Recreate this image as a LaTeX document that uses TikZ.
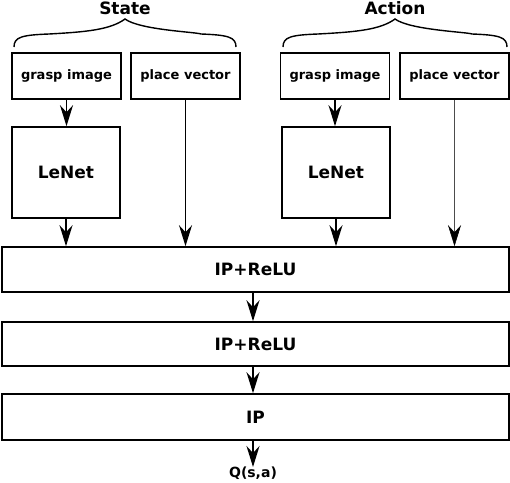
\documentclass[tikz,border=0pt]{standalone}
\usepackage{fontspec}
\setmainfont{DejaVu Sans}
\usetikzlibrary{arrows.meta}

\begin{document}
\begin{tikzpicture}[x=1pt,y=-1pt,
  box/.style={draw,line width=1.6pt,inner sep=0pt,font=\bfseries\fontsize{13}{15}\selectfont},
  big/.style={font=\bfseries\fontsize{17}{20}\selectfont},
  arr/.style={line width=1.5pt,-{Stealth[length=21pt,width=13pt,inset=7pt]}}]
\useasboundingbox (0,0) rectangle (510,482);
% inputs
\foreach \n/\x/\t in {sg/66.5/grasp image, sp/185.5/place vector, ag/335/grasp image, ap/454.5/place vector} {
\node[box,minimum width=109pt,minimum height=46pt] (\n) at (\x,76) {\t};
}
\foreach \n/\x in {sl/66, al/336} {
\node[box,big,minimum width=108pt,minimum height=91pt] (\n) at (\x,172.5) {LeNet};
}
% braces
\foreach \n/\l/\r/\t in {state/14/236/State, action/283/507/Action} {
\pgfmathsetmacro\m{(\l+\r)/2}
\draw[line width=1.4pt] (\l,47) .. controls (\l,37) and ({\l+8},35) .. ({\l+35},34)
  .. controls ({\m-40},32) and ({\m-15},30) .. (\m,19)
  .. controls ({\m+15},30) and ({\r-40},32) .. ({\r-35},34)
  .. controls ({\r-8},35) and (\r,37) .. (\r,47);
\node[big,inner sep=0pt] (\n) at (\m,8) {\t};
}
% layers
\node[box,big,minimum width=507pt,minimum height=45pt] (ip1) at (255.5,269.5) {IP+ReLU};
\node[box,big,minimum width=507pt,minimum height=44pt] (ip2) at (255.5,344) {IP+ReLU};
\node[box,big,minimum width=507pt,minimum height=46pt] (ip3) at (255.5,417) {IP};
\node[inner sep=0pt,font=\bfseries\fontsize{14}{16}\selectfont] (q) at (253,473.5) {Q(s,a)};

\draw[arr] (sg.south) -- (sg.south |- sl.north);
\draw[arr] (ag.south) -- (ag.south |- al.north);
\foreach \n in {sl,sp,al} {
\draw[arr] (\n.south) -- (\n.south |- ip1.north);
}
\draw[line width=0.6pt,gray!60!black,-{Stealth[length=21pt,width=13pt,inset=7pt,black]}] (ap.south) -- (ap.south |- ip1.north);
\draw[arr] (ip1.south -| q.north) -- (ip2.north -| q.north);
\draw[arr] (ip2.south -| q.north) -- (ip3.north -| q.north);
\draw[arr] (ip3.south -| q.north) -- (q.north);
\end{tikzpicture}
\end{document}
